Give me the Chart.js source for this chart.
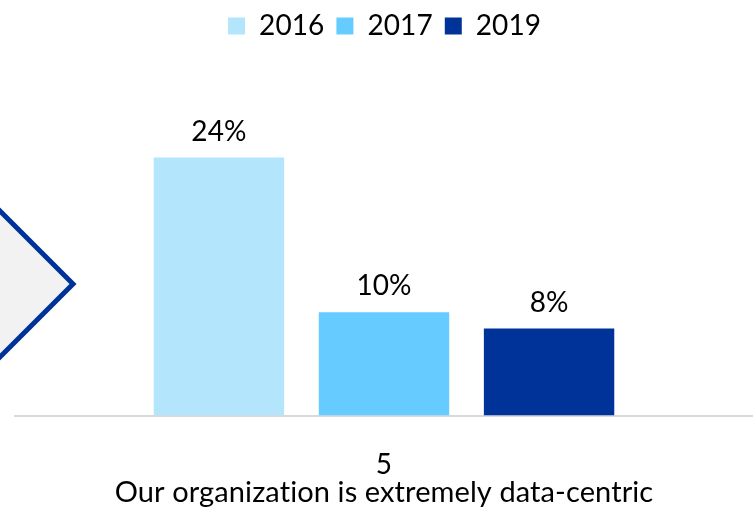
<!DOCTYPE html>
<html lang="en">
<head>
<meta charset="UTF-8">
<title>Data-centric</title>
<script src="https://cdn.jsdelivr.net/npm/chart.js@4.4.1/dist/chart.umd.min.js"></script>
<style>
  html, body { margin: 0; padding: 0; background: #fff; }
  #wrap { width: 753px; height: 508px; position: relative; }
</style>
</head>
<body>
<div id="wrap"><canvas id="grafico"></canvas></div>
<script>
// datos del grafico
const categorias = ['5'];
const tituloEje = 'Our organization is extremely data-centric';
const series = ['2016', '2017', '2019'];
const valores2016 = [24];
const valores2017 = [9.6];
const valores2019 = [8.1];
const colores = ['#b3e5fc', '#66ccff', '#003399'];

const fuente = 'Lato, sans-serif';

// rombo decorativo a la izquierda
const rombo = {
  id: 'rombo',
  beforeDraw(chart) {
    const c = chart.ctx;
    // un poco de espaciado evita la ligadura "ti" de Lato
    c.letterSpacing = '0.1px';
    const cx = -127, cy = 284, h = 200;
    c.save();
    c.beginPath();
    c.moveTo(cx, cy - h);
    c.lineTo(cx + h, cy);
    c.lineTo(cx, cy + h);
    c.lineTo(cx - h, cy);
    c.closePath();
    c.fillStyle = '#f2f2f2';
    c.fill();
    c.lineWidth = 5;
    c.strokeStyle = '#003399';
    c.stroke();
    c.restore();
  }
};

// etiquetas encima de cada barra
const etiquetas = {
  id: 'etiquetas',
  afterDatasetsDraw(chart) {
    const c = chart.ctx;
    c.save();
    c.font = '28px ' + fuente;
    c.fillStyle = '#000';
    c.textAlign = 'center';
    c.textBaseline = 'middle';
    chart.data.datasets.forEach((ds, i) => {
      chart.getDatasetMeta(i).data.forEach((bar, j) => {
        c.fillText(Math.round(ds.data[j]) + '%', bar.x, bar.y - 26);
      });
    });
    c.restore();
  }
};

const ctx = document.getElementById('grafico').getContext('2d');
new Chart(ctx, {
  type: 'bar',
  data: {
    labels: categorias,
    datasets: [
      { label: series[0], data: valores2016, backgroundColor: colores[0] },
      { label: series[1], data: valores2017, backgroundColor: colores[1] },
      { label: series[2], data: valores2019, backgroundColor: colores[2] }
    ]
  },
  options: {
    responsive: true,
    maintainAspectRatio: false,
    animation: false,
    layout: { padding: { left: 15, right: 0, top: 0, bottom: -2 } },
    datasets: { bar: { categoryPercentage: 0.671, barPercentage: 0.79 } },
    plugins: {
      legend: {
        position: 'top',
        labels: {
          boxWidth: 17, boxHeight: 17, padding: 12,
          color: '#000', font: { family: fuente, size: 28 }
        }
      },
      tooltip: { enabled: false }
    },
    scales: {
      x: {
        grid: { display: false, drawTicks: false },
        border: { display: true, color: '#d9d9d9', width: 2 },
        ticks: { color: '#000', font: { family: fuente, size: 28 }, padding: 33 },
        title: {
          display: true, text: tituloEje, color: '#000',
          font: { family: fuente, size: 29 }, padding: { top: -40, bottom: 0 }
        }
      },
      y: {
        display: false,
        min: 0,
        max: 34
      }
    }
  },
  plugins: [rombo, etiquetas]
});
</script>
</body>
</html>
